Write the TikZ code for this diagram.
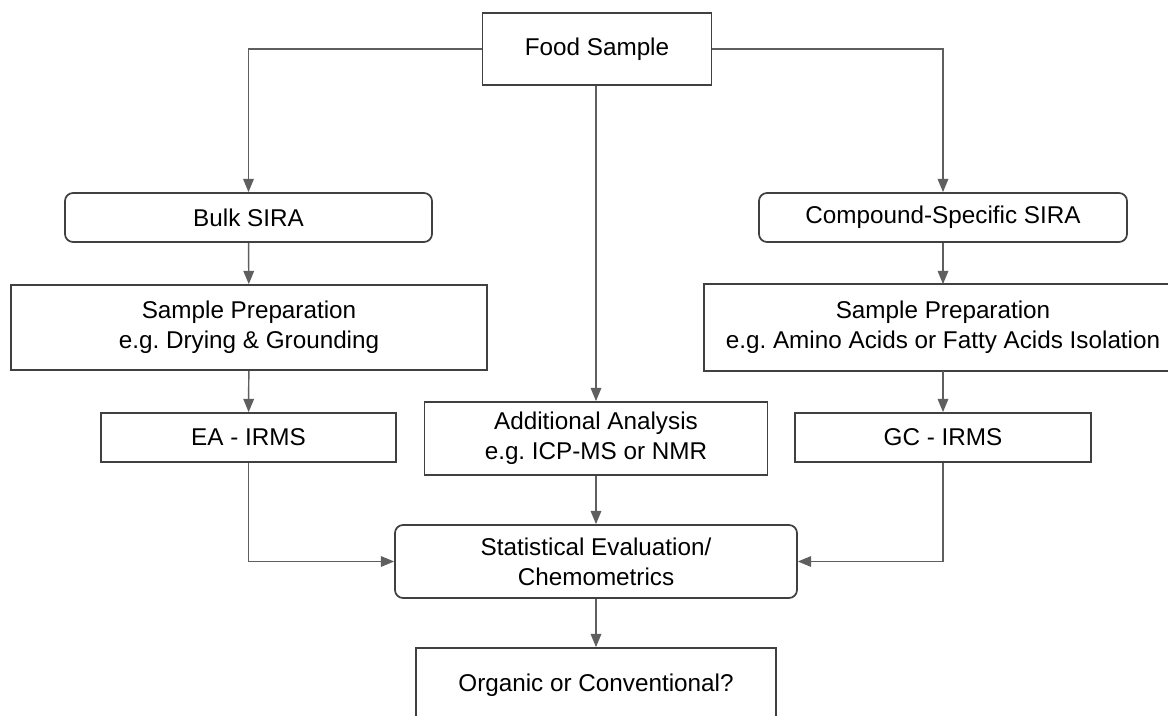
\documentclass[tikz,border=0pt]{standalone}
\usepackage{xcolor}
\usepackage{fontspec}
\setmainfont{Liberation Sans}
\usetikzlibrary{arrows.meta}
\frenchspacing

\definecolor{boxline}{RGB}{64,64,64}
\definecolor{arrline}{RGB}{95,95,95}

\tikzset{
  box/.style={draw=boxline, line width=1.3pt, fill=white, inner sep=0pt, align=center,
    font=\fontsize{18.2}{22.5}\selectfont},
  roundbox/.style={box, rounded corners=6pt},
  arr/.style={draw=arrline, line width=1.1pt, -{Triangle[length=10pt,width=8pt]}},
  frame/.style={draw=boxline, line width=1.3pt}
}

\begin{document}
\begin{tikzpicture}[x=0.75pt,y=0.75pt,yscale=-1,xscale=1]
\useasboundingbox (0,0) rectangle (1168,716);

%Shape: Rectangle [food]
\node [box, minimum width=229*0.75pt, minimum height=72*0.75pt] (food) at (597,49) {Food Sample};

%Shape: Rounded Rect [bulk]
\node [roundbox, minimum width=367*0.75pt, minimum height=49*0.75pt] (bulk) at (248.5,217.5) {Bulk SIRA};
%Shape: Rounded Rect [compound]
\node [roundbox, minimum width=368*0.75pt, minimum height=49*0.75pt] (compound) at (943,217.5) {Compound-Specific SIRA};

%Shape: Rectangle [prepL]
\node [box, minimum width=476*0.75pt, minimum height=85*0.75pt] (prepL) at (249,327.5) {Sample Preparation\\e.g. Drying \& Grounding};
%Shape: Rectangle [prepR] (right side runs off the page)
\node [box, draw=none, minimum width=476*0.75pt, minimum height=85*0.75pt] (prepR) at (943,327.5) {Sample Preparation\\e.g. Amino Acids or Fatty Acids Isolation};
\draw [frame] (prepR.north east) -- (prepR.north west) -- (prepR.south west) -- (prepR.south east);

%Shape: Rectangle [ea]
\node [box, minimum width=295*0.75pt, minimum height=49*0.75pt] (ea) at (248.5,437.5) {EA - IRMS};
%Shape: Rectangle [add]
\node [box, minimum width=343*0.75pt, minimum height=73*0.75pt] (add) at (596,438.5) {Additional Analysis\\e.g. ICP-MS or NMR};
%Shape: Rectangle [gc]
\node [box, minimum width=296*0.75pt, minimum height=49*0.75pt] (gc) at (943,437.5) {GC - IRMS};

%Shape: Rounded Rect [stat]
\node [roundbox, minimum width=402*0.75pt, minimum height=73*0.75pt] (stat) at (596,561.5) {Statistical Evaluation/\\Chemometrics};

%Shape: Rectangle [organic]
\node [box, minimum width=360*0.75pt, minimum height=74*0.75pt] (organic) at (596,685) {Organic or Conventional?};

%Straight Lines
\draw [arr] (food.west) -| (bulk.north);
\draw [arr] (food.east) -| (compound.north);
\draw [arr] (food.south -| add.north) -- (add.north);
\draw [arr] (bulk) -- (prepL);
\draw [arr] (compound) -- (prepR);
\draw [arr] (prepL) -- (ea);
\draw [arr] (prepR) -- (gc);
\draw [arr] (add) -- (stat);
\draw [arr] (ea.south) |- (stat.west);
\draw [arr] (gc.south) |- (stat.east);
\draw [arr] (stat) -- (organic);

\end{tikzpicture}
\end{document}
